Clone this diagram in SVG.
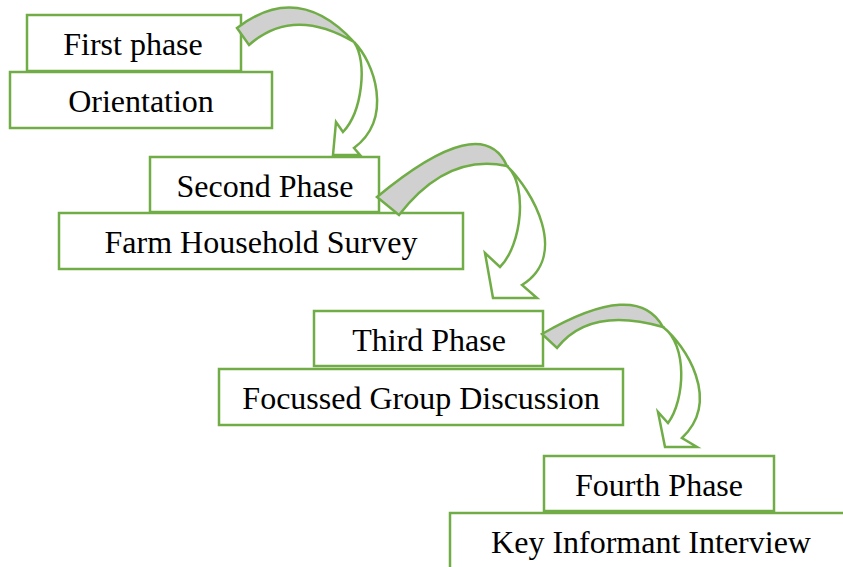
<svg xmlns="http://www.w3.org/2000/svg" width="843" height="567" viewBox="0 0 843 567">
<style>
.box{fill:#fff;stroke:#70ad47;stroke-width:2.5}
.lbl{font-family:"Liberation Serif","Times New Roman",serif;font-size:32px;fill:#000;text-anchor:middle}
.back{fill:#d0d0d0;stroke:#70ad47;stroke-width:2.5;stroke-linejoin:miter}
.front{fill:#fff;stroke:#70ad47;stroke-width:2.5;stroke-linejoin:miter}
</style>
<rect width="843" height="567" fill="#fff"/>
<g id="phase1">
<rect class="box" x="27" y="15" width="214" height="56"/>
<text class="lbl" x="133" y="55">First phase</text>
</g>
<g id="orientation">
<rect class="box" x="10" y="72" width="262" height="56"/>
<text class="lbl" x="141" y="112">Orientation</text>
</g>
<g id="phase2">
<rect class="box" x="150" y="157" width="229" height="55"/>
<text class="lbl" x="265" y="197">Second Phase</text>
</g>
<g id="survey">
<rect class="box" x="59" y="213" width="404" height="56"/>
<text class="lbl" x="261" y="253">Farm Household Survey</text>
</g>
<g id="phase3">
<rect class="box" x="314" y="311" width="229" height="55"/>
<text class="lbl" x="429" y="351">Third Phase</text>
</g>
<g id="fgd">
<rect class="box" x="219" y="369" width="404" height="56"/>
<text class="lbl" x="421" y="409">Focussed Group Discussion</text>
</g>
<g id="phase4">
<rect class="box" x="544" y="456" width="230" height="55"/>
<text class="lbl" x="659" y="496">Fourth Phase</text>
</g>
<g id="kii">
<rect class="box" x="450" y="513" width="404" height="60"/>
<text class="lbl" x="651" y="553">Key Informant Interview</text>
</g>
<g id="connectors">
<path class="back" d="M237,28 Q298,-19 354,42 Q293,6 249,45 Z"/>
<path class="front" d="M354,42 C374,62 394,118 354,148 L360,155 L333,155 L336,122 L343,132 C362,112 368,62 354,42 Z"/>
<path class="back" d="M377,197 Q482,110 507,166 Q447,153 399,215 Z"/>
<path class="front" d="M507,166 C532,190 570,255 522,285 L537,298 L493,298 L485,253 L500,267 C522,245 528,185 507,166 Z"/>
<path class="back" d="M542,334 Q637,279 663,327 Q590,306 557,348 Z"/>
<path class="front" d="M663,327 C685,345 722,400 682,438 L697,447 L665,447 L658,412 L668,423 C685,400 688,345 663,327 Z"/>
</g>
</svg>
